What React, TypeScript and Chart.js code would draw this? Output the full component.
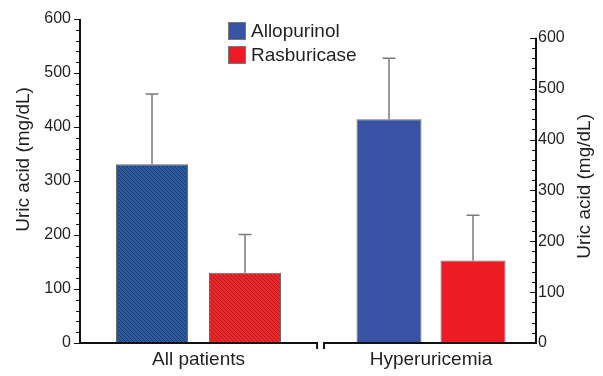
import React, { useEffect, useRef } from 'react';
import { Chart, registerables } from 'chart.js';

Chart.register(...registerables);

// ---- data ----
const categories = ['All patients', 'Hyperuricemia'];
const groupPositions = [0, 1];
const seriesNames = ['Allopurinol', 'Rasburicase'];
const allPatientsMeans = [331, 130];
const allPatientsUpper = [461, 201];
const hyperuricemiaMeans = [440, 162];
const hyperuricemiaUpper = [560, 251];
const yTickValues = [0, 100, 200, 300, 400, 500, 600];
const yTitle = 'Uric acid (mg/dL)';

const FONT = "'Liberation Sans', Arial, sans-serif";
const TEXT = '#231f20';
const BLUE = '#3953a4';
const RED = '#ed1c24';

function makeHatch(ctx: CanvasRenderingContext2D, base: string, line: string) {
  const c = document.createElement('canvas');
  c.width = 4;
  c.height = 4;
  const g = c.getContext('2d')!;
  g.fillStyle = base;
  g.fillRect(0, 0, 4, 4);
  g.strokeStyle = line;
  g.lineWidth = 1;
  g.beginPath();
  g.moveTo(0, 0); g.lineTo(4, 4);
  g.moveTo(-1, 3); g.lineTo(1, 5);
  g.moveTo(3, -1); g.lineTo(5, 1);
  g.stroke();
  return ctx.createPattern(c, 'repeat')!;
}

const errorBarPlugin = {
  id: 'errorBars',
  afterDatasetsDraw(chart: any) {
    const ctx = chart.ctx;
    ctx.save();
    ctx.strokeStyle = '#7a7a7a';
    ctx.lineWidth = 1.5;
    chart.data.datasets.forEach((ds: any, i: number) => {
      const meta = chart.getDatasetMeta(i);
      const scale = chart.scales[ds.yAxisID];
      meta.data.forEach((el: any, j: number) => {
        const up = ds.errorUpper[j];
        if (up == null || ds.data[j] == null) return;
        const yTop = scale.getPixelForValue(up);
        ctx.beginPath();
        ctx.moveTo(el.x, el.y);
        ctx.lineTo(el.x, yTop);
        ctx.moveTo(el.x - 6.5, yTop);
        ctx.lineTo(el.x + 6.5, yTop);
        ctx.stroke();
      });
    });
    ctx.restore();
  },
};

const axesPlugin = {
  id: 'customAxes',
  afterDatasetsDraw(chart: any) {
    const ctx = chart.ctx;
    const y = chart.scales.y;
    const y2 = chart.scales.y2;
    const x = chart.scales.x;
    const area = chart.chartArea;
    ctx.save();
    ctx.strokeStyle = '#111';
    ctx.lineCap = 'butt';
    // left axis
    const lx = area.left;
    ctx.lineWidth = 2;
    ctx.beginPath();
    ctx.moveTo(lx, y.getPixelForValue(0) + 1);
    ctx.lineTo(lx, y.getPixelForValue(600));
    ctx.stroke();
    ctx.lineWidth = 1;
    for (let v = 0; v <= 600; v += 20) {
      const py = Math.round(y.getPixelForValue(v)) + 0.5;
      const len = v % 100 === 0 ? 5 : 3;
      ctx.beginPath();
      ctx.moveTo(lx - 1 - len, py);
      ctx.lineTo(lx, py);
      ctx.stroke();
    }
    // right axis
    const rx = area.right;
    ctx.lineWidth = 2;
    ctx.beginPath();
    ctx.moveTo(rx, y2.getPixelForValue(0) + 1);
    ctx.lineTo(rx, y2.getPixelForValue(600));
    ctx.stroke();
    ctx.lineWidth = 1;
    for (let v = 0; v <= 600; v += 20) {
      const py = Math.round(y2.getPixelForValue(v)) + 0.5;
      const len = v % 100 === 0 ? 5 : 3;
      ctx.beginPath();
      ctx.moveTo(rx - 1 - len, py);
      ctx.lineTo(rx, py);
      ctx.stroke();
    }
    // bottom bracket lines
    const by = y.getPixelForValue(0);
    const divL = x.getPixelForValue(0.51);
    const divR = x.getPixelForValue(0.54);
    ctx.lineWidth = 2;
    ctx.beginPath();
    ctx.moveTo(lx - 1, by);
    ctx.lineTo(divL, by);
    ctx.lineTo(divL, by + 6);
    ctx.moveTo(divR, by + 6);
    ctx.lineTo(divR, by);
    ctx.lineTo(rx + 1, by);
    ctx.stroke();

    // axis titles (both read bottom-to-top)
    ctx.fillStyle = TEXT;
    ctx.font = `19px ${FONT}`;
    ctx.textAlign = 'center';
    ctx.textBaseline = 'middle';
    const drawTitle = (cx: number, cy: number) => {
      ctx.save();
      ctx.translate(cx, cy);
      ctx.rotate(-Math.PI / 2);
      ctx.fillText(yTitle, 0, 0);
      ctx.restore();
    };
    drawTitle(lx - 56, y.getPixelForValue(340));
    drawTitle(rx + 49, y2.getPixelForValue(308));
    ctx.restore();
  },
};

const legendPlugin = {
  id: 'boxLegend',
  afterDraw(chart: any) {
    const ctx = chart.ctx;
    const colors = [BLUE, RED];
    ctx.save();
    ctx.font = `19px ${FONT}`;
    ctx.textBaseline = 'middle';
    ctx.textAlign = 'left';
    seriesNames.forEach((name, i) => {
      const top = 22 + i * 24;
      ctx.fillStyle = colors[i];
      ctx.fillRect(228, top, 18, 18);
      ctx.strokeStyle = '#777';
      ctx.lineWidth = 1;
      ctx.strokeRect(228.5, top + 0.5, 17, 17);
      ctx.fillStyle = TEXT;
      ctx.fillText(name, 251, top + 10);
    });
    ctx.restore();
  },
};

export default function App() {
  const ref = useRef<HTMLCanvasElement>(null);

  useEffect(() => {
    const canvas = ref.current!;
    const ctx = canvas.getContext('2d')!;
    const blueHatch = makeHatch(ctx, '#2d5a9c', '#1c3c74');
    const redHatch = makeHatch(ctx, '#e8282a', '#b81c20');

    const leftFill = [blueHatch, redHatch];
    const rightFill = [BLUE, RED];

    const datasets: any[] = [];
    seriesNames.forEach((name, i) => {
      datasets.push({
        label: name,
        data: [allPatientsMeans[i], null],
        errorUpper: [allPatientsUpper[i], null],
        yAxisID: 'y',
        backgroundColor: leftFill[i],
        borderColor: '#6b6b6b',
        borderWidth: 1,
        categoryPercentage: 0.8,
        barPercentage: 0.774,
      });
    });
    seriesNames.forEach((name, i) => {
      datasets.push({
        label: name,
        data: [null, hyperuricemiaMeans[i]],
        errorUpper: [null, hyperuricemiaUpper[i]],
        yAxisID: 'y2',
        backgroundColor: rightFill[i],
        borderColor: '#6b6b6b',
        borderWidth: 1,
        categoryPercentage: 0.7226,
        barPercentage: 0.774,
      });
    });

    const chart = new Chart(canvas, {
      type: 'bar',
      data: { labels: groupPositions, datasets },
      options: {
        responsive: false,
        animation: false,
        skipNull: true,
        layout: { padding: { top: 19, left: 0, right: 0, bottom: 0 } },
        plugins: { legend: { display: false }, tooltip: { enabled: false } },
        scales: {
          x: {
            type: 'linear',
            min: -0.5097,
            max: 1.4516,
            offset: false,
            grid: { display: false, drawTicks: false },
            border: { display: false },
            afterBuildTicks: (scale: any) => {
              scale.ticks = groupPositions.map((v) => ({ value: v }));
            },
            afterFit: (scale: any) => { scale.height = 33; },
            ticks: {
              padding: 5,
              color: TEXT,
              font: { family: FONT, size: 19 },
              maxRotation: 0,
              autoSkip: false,
              callback: (v: any) => {
                const idx = groupPositions.indexOf(Number(v));
                return idx >= 0 ? categories[idx] : '';
              },
            },
          },
          y: {
            position: 'left',
            min: 0,
            max: 600,
            grid: { display: false, drawTicks: false },
            border: { display: false },
            afterBuildTicks: (scale: any) => {
              scale.ticks = yTickValues.map((v) => ({ value: v }));
            },
            afterFit: (scale: any) => { scale.width = 80; },
            ticks: {
              padding: 9,
              color: TEXT,
              font: { family: FONT, size: 16 },
            },
          },
          y2: {
            position: 'right',
            min: 0,
            max: 637,
            grid: { display: false, drawTicks: false },
            border: { display: false },
            afterBuildTicks: (scale: any) => {
              scale.ticks = yTickValues.map((v) => ({ value: v }));
            },
            afterFit: (scale: any) => { scale.width = 67; },
            ticks: {
              padding: 2,
              color: TEXT,
              font: { family: FONT, size: 16 },
            },
          },
        },
      },
      plugins: [errorBarPlugin, axesPlugin, legendPlugin],
    } as any);

    return () => chart.destroy();
  }, []);

  return (
    <div style={{ position: 'absolute', left: 0, top: 0, width: 603, height: 376, background: '#fff' }}>
      <canvas ref={ref} width={603} height={376} style={{ display: 'block' }} />
    </div>
  );
}
